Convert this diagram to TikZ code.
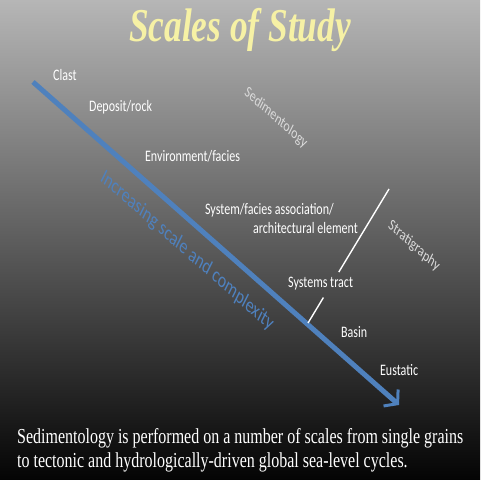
\documentclass[tikz,border=0pt]{standalone}
\usepackage{fontspec}
\usepackage{tikz}
\usetikzlibrary{positioning, arrows.meta, calc}
\setmainfont{Liberation Serif}
\newfontfamily\labelfont{Carlito}
\definecolor{sctop}{RGB}{182,182,182}
\definecolor{scmid}{RGB}{96,96,96}
\definecolor{scbottom}{RGB}{4,4,4}
\definecolor{scblue}{RGB}{79,129,189}
\definecolor{sctitle}{RGB}{246,241,165}
\definecolor{scsubject}{RGB}{218,218,218}
\tikzset{
    scalelabel/.style={anchor=west, inner sep=0pt, text=white, font=\labelfont\fontsize{18}{20}\selectfont},
    subjectlabel/.style={inner sep=0pt, text=scsubject, rotate=-33.6, font=\labelfont\fontsize{18}{20}\selectfont},
    trendlabel/.style={inner sep=0pt, text=scblue, rotate=-33.6, font=\labelfont\fontsize{24}{26}\selectfont},
    trendarrow/.style={scblue, line width=5pt, -{Straight Barb[length=9pt, width=22pt, line width=3pt]}},
    divider/.style={white, line width=1.4pt}
}
\begin{document}
\begin{tikzpicture}[x=1.5pt, y=-1.125pt, xscale=2/3, yscale=8/9, transform shape]
                    % background
                    \useasboundingbox (0,0) rectangle (480,480);
                    \shade[top color=sctop, middle color=scmid, bottom color=scbottom] (0,0) rectangle (480,480);
                    % title
                    \node[text=sctitle, font=\bfseries\itshape\fontsize{53}{56}\selectfont] (title) at (240,30) {Scales of Study};
                    % the arrow
                    \coordinate (small) at (33,82);
                    \coordinate (large) at (399,405);
                    \draw[trendarrow] (small) -- (large);
                    \node[trendlabel] (trend) at (187,251) {Increasing scale and complexity};
                    % scales
                    \node[scalelabel] (clast) at (53,75) {Clast};
                    \node[scalelabel] (deposit) at (89,107) {Deposit/rock};
                    \node[scalelabel] (environment) at (145,156) {Environment/facies};
                    \node[scalelabel] (system) at (205,210) {System/facies association/};
                    \node[scalelabel] (element) at (253,228) {architectural element};
                    \node[scalelabel] (tract) at (288,284) {Systems tract};
                    \node[scalelabel] (basin) at (341,332) {Basin};
                    \node[scalelabel] (eustatic) at (380,370) {Eustatic};
                    % subjects
                    \node[subjectlabel] (sedimentology) at (276,118) {Sedimentology};
                    \node[subjectlabel] (stratigraphy) at (414,246) {Stratigraphy};
                    \coordinate (div top) at (389,189);
                    \coordinate (div bottom) at (308,323);
                    \draw[divider] (div top) -- ($(div top)!0.62!(div bottom)$);
                    \draw[divider] ($(div top)!0.81!(div bottom)$) -- (div bottom);
                    % caption
                    \node[anchor=west, inner sep=0pt, text=white, align=left, font=\fontsize{24}{27}\selectfont] (caption) at (17,450)
                        {Sedimentology is performed on a number of scales from single grains\\to tectonic and hydrologically-driven global sea-level cycles.};
                \end{tikzpicture}
\end{document}
